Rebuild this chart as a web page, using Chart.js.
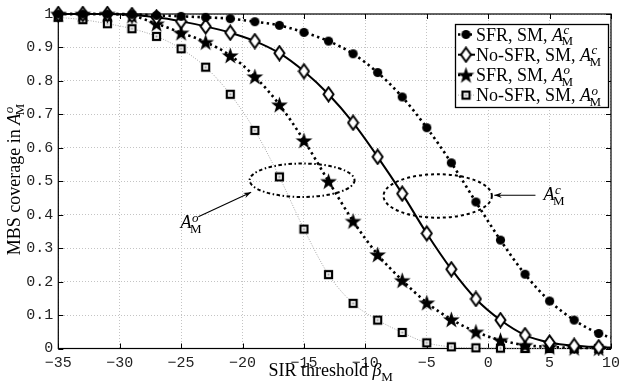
<!DOCTYPE html>
<html>
<head>
<meta charset="utf-8">
<script src="https://cdn.jsdelivr.net/npm/chart.js@4/dist/chart.umd.min.js"></script>
<style>
  html, body { margin: 0; padding: 0; background: #fff; }
</style>
</head>
<body>
<canvas id="chart" width="626" height="388"></canvas>
<script>
// SIR threshold in dB. The last entry is the right edge of the axes (no marker there)
const sirThreshold = [-35, -33, -31, -29, -27, -25, -23, -21, -19, -17, -15, -13, -11, -9, -7, -5, -3, -1, 1, 3, 5, 7, 9, 10];

// MBS coverage
const sfrCenter = [1.0, 1.0, 1.0, 0.999, 0.996, 0.993, 0.99, 0.986, 0.977, 0.966, 0.945, 0.919, 0.881, 0.825, 0.752, 0.660, 0.555, 0.438, 0.324, 0.222, 0.142, 0.085, 0.045, 0.033];
const noSfrCenter = [1.0, 1.0, 1.0, 0.997, 0.99, 0.978, 0.963, 0.944, 0.919, 0.883, 0.829, 0.760, 0.675, 0.573, 0.463, 0.344, 0.237, 0.148, 0.085, 0.040, 0.018, 0.008, 0.004, 0.003];
const sfrEdge = [1.0, 1.0, 1.0, 0.995, 0.971, 0.944, 0.916, 0.876, 0.813, 0.729, 0.622, 0.500, 0.381, 0.281, 0.204, 0.137, 0.087, 0.050, 0.025, 0.010, 0.005, 0.002, 0.001, 0.0];
const noSfrEdge = [0.99, 0.983, 0.971, 0.956, 0.933, 0.896, 0.841, 0.760, 0.652, 0.513, 0.357, 0.221, 0.135, 0.085, 0.048, 0.017, 0.005, 0.002, 0.001, 0.0, 0.0, 0.0, 0.0, 0.0];

const seriesNames = ["SFR, SM, ", "No-SFR, SM, ", "SFR, SM, ", "No-SFR, SM, "];
const seriesRegion = ["c", "c", "o", "o"];

const xTicks = [-35, -30, -25, -20, -15, -10, -5, 0, 5, 10];
const yTicks = [0, 0.1, 0.2, 0.3, 0.4, 0.5, 0.6, 0.7, 0.8, 0.9, 1];

const serif = '"Liberation Serif", "Times New Roman", serif';
const mono = '"Liberation Mono", "Courier New", monospace';

// ---- marker images ----
function makeCanvas(w, h) {
  const c = document.createElement("canvas");
  c.width = w; c.height = h;
  return c;
}
function circleMarker() {
  const c = makeCanvas(11, 11), g = c.getContext("2d");
  g.fillStyle = "#000";
  g.beginPath(); g.arc(5.5, 5.5, 4.6, 0, Math.PI * 2); g.fill();
  return c;
}
function diamondMarker() {
  const c = makeCanvas(13, 17), g = c.getContext("2d");
  g.fillStyle = "#fff"; g.strokeStyle = "#000"; g.lineWidth = 2;
  g.beginPath();
  g.moveTo(6.5, 1.5); g.lineTo(11.5, 8.5); g.lineTo(6.5, 15.5); g.lineTo(1.5, 8.5); g.closePath();
  g.fill(); g.stroke();
  return c;
}
function starMarker() {
  const c = makeCanvas(19, 19), g = c.getContext("2d");
  g.fillStyle = "#000";
  g.beginPath();
  for (let i = 0; i < 10; i++) {
    const r = i % 2 === 0 ? 8.8 : 3.5;
    const a = -Math.PI / 2 + i * Math.PI / 5;
    const px = 9.5 + r * Math.cos(a), py = 10.3 + r * Math.sin(a);
    if (i === 0) g.moveTo(px, py); else g.lineTo(px, py);
  }
  g.closePath(); g.fill();
  return c;
}
function squareMarker() {
  const c = makeCanvas(11, 11), g = c.getContext("2d");
  g.fillStyle = "#fff"; g.fillRect(1, 1, 9, 9);
  g.strokeStyle = "#000"; g.lineWidth = 2.2;
  g.strokeRect(2, 2, 7, 7);
  g.fillStyle = "#999"; g.fillRect(4.5, 4.5, 2, 2);
  return c;
}
const markers = [circleMarker(), diamondMarker(), starMarker(), squareMarker()];

const lineStyles = [
  { color: "#000", width: 2.6, dash: [2.4, 3.4] },
  { color: "#000", width: 2, dash: [] },
  { color: "#000", width: 2.6, dash: [2.4, 3.4] },
  { color: "#a8a8a8", width: 1, dash: [1, 1.5] }
];

function toPoints(values) {
  return values.map((v, i) => ({ x: sirThreshold[i], y: v }));
}
// no marker on the edge point
const radii = sirThreshold.map((x, i) => (i === sirThreshold.length - 1 ? 0 : 5));

const seriesValues = [sfrCenter, noSfrCenter, sfrEdge, noSfrEdge];
const datasets = seriesValues.map((vals, k) => ({
  label: seriesNames[k] + "A" + seriesRegion[k],
  data: toPoints(vals),
  borderColor: lineStyles[k].color,
  borderWidth: lineStyles[k].width,
  borderDash: lineStyles[k].dash,
  borderCapStyle: "butt",
  pointStyle: markers[k],
  pointRadius: radii,
  pointHoverRadius: radii,
  cubicInterpolationMode: "monotone",
  fill: false,
  clip: false
}));

// annotation positions in data units
const ellipses = [
  { cx: -15.15, cy: 0.503, rx: 4.27, ry: 0.05, dash: [3.5, 2.5, 1.5, 2.5] },
  { cx: -4.11, cy: 0.456, rx: 4.41, ry: 0.065, dash: [3, 3] }
];
const arrows = [
  { from: [-23.6, 0.394], to: [-19.3, 0.467] },
  { from: [3.85, 0.458], to: [0.5, 0.458] }
];
const arrowLabels = [
  { x: -25.05, y: 0.36, sup: "o" },
  { x: 4.5, y: 0.443, sup: "c" }
];

// A with superscript region letter and subscript M, baseline at y
function drawA(g, x, y, sup, size) {
  g.textAlign = "left";
  g.textBaseline = "alphabetic";
  g.font = "italic " + size + "px " + serif;
  g.fillText("A", x, y);
  const w = g.measureText("A").width;
  const s = Math.round(size * 0.7);
  g.font = "italic " + s + "px " + serif;
  g.fillText(sup, x + w + 0.5, y - size * 0.36);
  const w1 = g.measureText(sup).width;
  g.font = s + "px " + serif;
  g.fillText("M", x + w - 1.5, y + size * 0.27);
  const w2 = g.measureText("M").width;
  return w + Math.max(w1 + 0.5, w2 - 1.5);
}

const decor = {
  id: "decor",
  beforeDraw(chart) {
    const g = chart.ctx;
    g.save();
    g.fillStyle = "#fff";
    g.fillRect(0, 0, chart.width, chart.height);
    g.restore();
  },
  beforeDatasetsDraw(chart) {
    const g = chart.ctx, ca = chart.chartArea;
    const xs = chart.scales.x, ys = chart.scales.y;
    g.save();
    g.strokeStyle = "#000";
    g.lineWidth = 1;
    // inward ticks
    g.beginPath();
    xTicks.forEach(v => {
      const px = Math.round(xs.getPixelForValue(v)) + 0.5;
      g.moveTo(px, ca.bottom); g.lineTo(px, ca.bottom - 5);
      g.moveTo(px, ca.top); g.lineTo(px, ca.top + 5);
    });
    yTicks.forEach(v => {
      const py = Math.round(ys.getPixelForValue(v)) + 0.5;
      g.moveTo(ca.left, py); g.lineTo(ca.left + 5, py);
      g.moveTo(ca.right, py); g.lineTo(ca.right - 5, py);
    });
    g.stroke();
    // frame
    g.lineWidth = 1.2;
    g.strokeRect(ca.left, ca.top, ca.right - ca.left, ca.bottom - ca.top);
    g.restore();
  },
  afterDatasetsDraw(chart) {
    const g = chart.ctx;
    const xs = chart.scales.x, ys = chart.scales.y;
    const X = v => xs.getPixelForValue(v), Y = v => ys.getPixelForValue(v);
    g.save();
    g.strokeStyle = "#000";
    g.fillStyle = "#000";

    // ellipses around the curve groups
    ellipses.forEach(e => {
      const cx = X(e.cx), cy = Y(e.cy);
      const rx = X(e.cx + e.rx) - cx, ry = cy - Y(e.cy + e.ry);
      g.lineWidth = 2;
      g.setLineDash(e.dash);
      g.beginPath();
      g.ellipse(cx, cy, rx, ry, 0, 0, Math.PI * 2);
      g.stroke();
    });
    g.setLineDash([]);

    // arrows
    arrows.forEach(a => {
      const x1 = X(a.from[0]), y1 = Y(a.from[1]), x2 = X(a.to[0]), y2 = Y(a.to[1]);
      const ang = Math.atan2(y2 - y1, x2 - x1);
      g.lineWidth = 1.1;
      g.beginPath(); g.moveTo(x1, y1); g.lineTo(x2, y2); g.stroke();
      g.beginPath();
      g.moveTo(x2, y2);
      g.lineTo(x2 - 8 * Math.cos(ang - 0.35), y2 - 8 * Math.sin(ang - 0.35));
      g.lineTo(x2 - 5 * Math.cos(ang), y2 - 5 * Math.sin(ang));
      g.lineTo(x2 - 8 * Math.cos(ang + 0.35), y2 - 8 * Math.sin(ang + 0.35));
      g.closePath(); g.fill();
    });
    arrowLabels.forEach(l => drawA(g, X(l.x), Y(l.y), l.sup, 18));

    // legend
    const box = { left: 455.5, top: 24.5, right: 608.5, bottom: 107.5 };
    g.fillStyle = "#fff";
    g.fillRect(box.left, box.top, box.right - box.left, box.bottom - box.top);
    g.strokeStyle = "#000";
    g.lineWidth = 1.3;
    g.strokeRect(box.left, box.top, box.right - box.left, box.bottom - box.top);
    for (let k = 0; k < 4; k++) {
      const base = 40.5 + 20.2 * k;
      const my = base - 6;
      g.strokeStyle = lineStyles[k].color;
      g.lineWidth = lineStyles[k].width;
      g.setLineDash(lineStyles[k].dash);
      g.beginPath(); g.moveTo(458, my); g.lineTo(475, my); g.stroke();
      g.setLineDash([]);
      const m = markers[k];
      g.drawImage(m, 466 - m.width / 2, my - m.height / 2);
      g.fillStyle = "#000";
      g.font = "18px " + serif;
      g.textAlign = "left";
      g.textBaseline = "alphabetic";
      g.fillText(seriesNames[k], 476, base);
      const w = g.measureText(seriesNames[k]).width;
      drawA(g, 476 + w, base, seriesRegion[k], 18);
    }
    g.restore();
  },
  afterDraw(chart) {
    const g = chart.ctx, ca = chart.chartArea;
    g.save();
    g.fillStyle = "#000";
    // x title
    const xt = "SIR threshold ";
    g.font = "18px " + serif;
    const w0 = g.measureText(xt).width;
    g.font = "italic 18px " + serif;
    const wb = g.measureText("\u03B2").width;
    g.font = "13px " + serif;
    const wm = g.measureText("M").width;
    let x = (ca.left + ca.right) / 2 - 4 - (w0 + wb + wm) / 2;
    const yb = 376;
    g.textAlign = "left"; g.textBaseline = "alphabetic";
    g.font = "18px " + serif; g.fillText(xt, x, yb);
    g.font = "italic 18px " + serif; g.fillText("\u03B2", x + w0, yb);
    g.font = "13px " + serif; g.fillText("M", x + w0 + wb, yb + 4.5);

    // y title
    g.translate(19.5, 179);
    g.rotate(-Math.PI / 2);
    const yt = "MBS coverage in ";
    g.font = "18px " + serif;
    const w1 = g.measureText(yt).width;
    const total = w1 + 22;
    g.textAlign = "left";
    g.fillText(yt, -total / 2, 0);
    drawA(g, -total / 2 + w1, 0, "o", 18);
    g.restore();
  }
};

new Chart(document.getElementById("chart"), {
  type: "line",
  data: { datasets: datasets },
  options: {
    responsive: false,
    animation: false,
    events: [],
    layout: { padding: { top: 13.5, right: 9.7, left: 0, bottom: 0 } },
    plugins: {
      legend: { display: false },
      tooltip: { enabled: false }
    },
    scales: {
      x: {
        type: "linear",
        min: -35,
        max: 10,
        afterBuildTicks: s => { s.ticks = xTicks.map(v => ({ value: v })); },
        afterFit: s => { s.height = 39.5; },
        ticks: {
          color: "#222",
          font: { family: mono, size: 15 },
          padding: 6,
          maxRotation: 0,
          autoSkip: false,
          callback: v => (v < 0 ? "\u2212" + Math.abs(v) : String(v))
        },
        grid: { color: "#c4c4c4", lineWidth: 1, drawTicks: false },
        border: { display: false, dash: [1, 2] }
      },
      y: {
        min: 0,
        max: 1,
        afterBuildTicks: s => { s.ticks = yTicks.map(v => ({ value: v })); },
        afterFit: s => { s.width = 58.3; },
        ticks: {
          color: "#222",
          font: { family: mono, size: 15 },
          padding: 5,
          autoSkip: false,
          callback: v => (v === 0 || v === 1 ? String(v) : v.toFixed(1))
        },
        grid: { color: "#c4c4c4", lineWidth: 1, drawTicks: false },
        border: { display: false, dash: [1, 2] }
      }
    }
  },
  plugins: [decor]
});
</script>
</body>
</html>
